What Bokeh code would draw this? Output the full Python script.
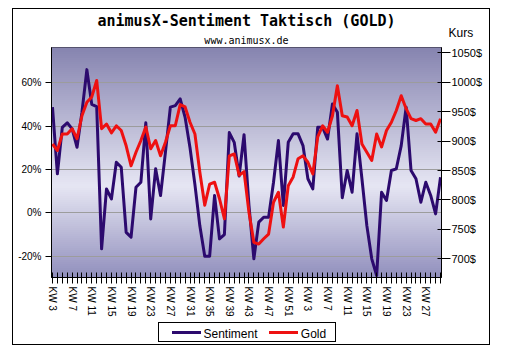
import numpy as np
from bokeh.plotting import figure
from bokeh.models import (Range1d, LinearAxis, FixedTicker, PrintfTickFormatter, Title)
from bokeh.embed import file_html
from bokeh.resources import INLINE

# ---- data -------------------------------------------------------------
weeks = list(range(3, 53)) + list(range(1, 31))  # calendar weeks (two years)
sentiment = [48.7, 18, 39.4, 41.5, 38.7, 30.2, 46.4, 66, 50, 49,
             -16.6, 11, 6.4, 23.3, 21, -9, -11.2, 11.8, 14.1, 41.5,
             -2.8, 20.3, 8, 28, 48.7, 49.4, 52.5, 44, 30, 13,
             -6, -20, -20, 8, -12, -10, 37, 32.5, 17, 36,
             3.4, -21.2, -4.3, -2, -2, 14.1, 33.3, 3.4, 32.5, 36.4,
             36.4, 31, 15.7, 11, 39.4, 39.4, 34, 50.2, 46.4, 7,
             19.5, 9.5, 36.4, 15.7, -5.9, -21.2, -28.9, 9.5, 5.7, 19.5,
             20.3, 31, 48.7, 19.5, 15.7, 4.9, 14.1, 8, -0.5, 16.4]
gold = [895, 884, 912, 912, 921, 904, 943, 966, 975, 1003,
        921, 929, 914, 926, 918, 892, 858, 881, 901, 924,
        887, 901, 875, 898, 926, 926, 962, 958, 932, 912,
        847, 791, 827, 830, 802, 768, 875, 878, 842, 848,
        779, 728, 725, 734, 742, 796, 813, 754, 824, 839,
        870, 875, 864, 844, 907, 926, 915, 943, 994, 943,
        941, 926, 952, 895, 881, 867, 912, 890, 918, 932,
        952, 977, 955, 938, 935, 938, 929, 929, 915, 938]
series_names = ["Sentiment", "Gold"]
pct_ticks = [-20, 0, 20, 40, 60]
usd_ticks = [700, 750, 800, 850, 900, 950, 1000, 1050]
idx = list(range(len(weeks)))

SENT_C = "#2c0a6e"
GOLD_C = "#ee1111"

p = figure(frame_width=390, frame_height=230, output_backend="svg", toolbar_location=None,
           x_range=Range1d(-0.2, 79.2), y_range=Range1d(-29.8, 76.2),
           min_border_left=51, min_border_right=65, min_border_top=47, min_border_bottom=81,
           title=None, background_fill_color="white", border_fill_color=None)
p.extra_y_ranges = {"kurs": Range1d(668.2, 1059)}
p.outline_line_color = "black"
p.outline_line_alpha = 1

# outer frame, legend box and legend swatches drawn behind the (transparent) canvas border
p.styles = {
    "background-color": "white",
    "background-image": ", ".join(["linear-gradient(#000, #000)"] * 8
                                  + [f"linear-gradient({SENT_C}, {SENT_C})",
                                     f"linear-gradient({GOLD_C}, {GOLD_C})"]),
    "background-repeat": "no-repeat",
    "background-position": "12px 8px, 12px 344px, 12px 8px, 489px 8px, "
                           "158px 322px, 158px 341px, 158px 322px, 335px 322px, "
                           "172px 331px, 269px 331px",
    "background-size": "478px 1px, 478px 1px, 1px 337px, 1px 337px, "
                       "178px 1px, 178px 1px, 1px 20px, 1px 20px, "
                       "29px 3px, 29px 3px",
}

# ---- gradient background of the plot area ----
n = 115
edges = np.linspace(-29.8, 76.2, n + 1)
top_c = np.array([134, 132, 176])
light_c = np.array([230, 230, 243])
bot_c = np.array([144, 142, 188])
cols = []
for k in range(n):
    t = 1 - (k + 0.5) / n
    if t < 0.6:
        c = top_c + (light_c - top_c) * (t / 0.6)
    else:
        c = light_c + (bot_c - light_c) * ((t - 0.6) / 0.4)
    cols.append("#%02x%02x%02x" % tuple(int(round(v)) for v in c))
p.quad(left=-1, right=80, bottom=edges[:-1], top=edges[1:], fill_color=cols,
       line_color=cols, line_width=1, level="image")

# ---- grid ----
p.xgrid.visible = False
p.ygrid.ticker = FixedTicker(ticks=pct_ticks)
p.ygrid.grid_line_color = "#9c9c9c"
p.ygrid.grid_line_width = 1

# ---- axes ----
lab_font = "Liberation Sans"
yax = p.yaxis[0]
yax.ticker = FixedTicker(ticks=pct_ticks)
yax.formatter = PrintfTickFormatter(format="%d%%")
yax.major_tick_in = 0
yax.major_tick_out = 6
yax.minor_tick_line_color = None
yax.major_label_standoff = 4
yax.major_label_text_font = lab_font
yax.major_label_text_font_size = "10px"
yax.major_label_text_color = "black"
yax.axis_line_color = "black"

NB = "\u00a0"
xax = p.xaxis[0]
xax.ticker = FixedTicker(ticks=idx, minor_ticks=[])
xax.major_label_overrides = {i: (f"KW {weeks[i]}" if i % 4 == 0 else "") for i in idx}
xax.major_label_orientation = "vertical"
xax.major_tick_in = 5
xax.major_tick_out = 6
xax.minor_tick_out = 0
xax.minor_tick_line_color = None
xax.major_label_standoff = 3
xax.major_label_text_font = lab_font
xax.major_label_text_font_size = "10px"
xax.major_label_text_color = "black"
xax.axis_line_color = "black"
# legend texts (swatches/box are drawn in the page background)
xax.axis_label = NB * 11 + series_names[0] + NB * 13 + series_names[1]
xax.axis_label_standoff = 7
xax.axis_label_text_font = lab_font
xax.axis_label_text_font_size = "12px"
xax.axis_label_text_font_style = "normal"
xax.axis_label_text_color = "black"

rax = LinearAxis(y_range_name="kurs", ticker=FixedTicker(ticks=usd_ticks),
                 formatter=PrintfTickFormatter(format="%d$"))
rax.major_tick_in = 4
rax.major_tick_out = 9
rax.minor_tick_line_color = None
rax.major_label_standoff = 1
rax.major_label_text_font = lab_font
rax.major_label_text_font_size = "11px"
rax.major_label_text_color = "black"
rax.axis_line_color = "black"
p.add_layout(rax, "right")

# ---- lines ----
p.line(idx, sentiment, line_color=SENT_C, line_width=3, line_join="round")
p.line(idx, gold, line_color=GOLD_C, line_width=3, line_join="round", y_range_name="kurs")

# ---- titles (stacked above the frame: closest first) ----
p.add_layout(Title(text="www.animusx.de", align="center", vertical_align="top",
                   text_font="DejaVu Sans Mono", text_font_style="normal",
                   text_font_size="10px", text_color="black", standoff=0), "above")
p.add_layout(Title(text="Kurs", align="left", offset=397, vertical_align="bottom",
                   text_font=lab_font, text_font_style="normal",
                   text_font_size="12px", text_color="#000000", standoff=-11), "above")
p.add_layout(Title(text="animusX-Sentiment Taktisch (GOLD)", align="center",
                   vertical_align="bottom", text_font="DejaVu Sans Mono",
                   text_font_style="bold", text_font_size="15px", text_color="black",
                   standoff=0), "above")

open("out.html", "w").write(file_html(p, INLINE))
